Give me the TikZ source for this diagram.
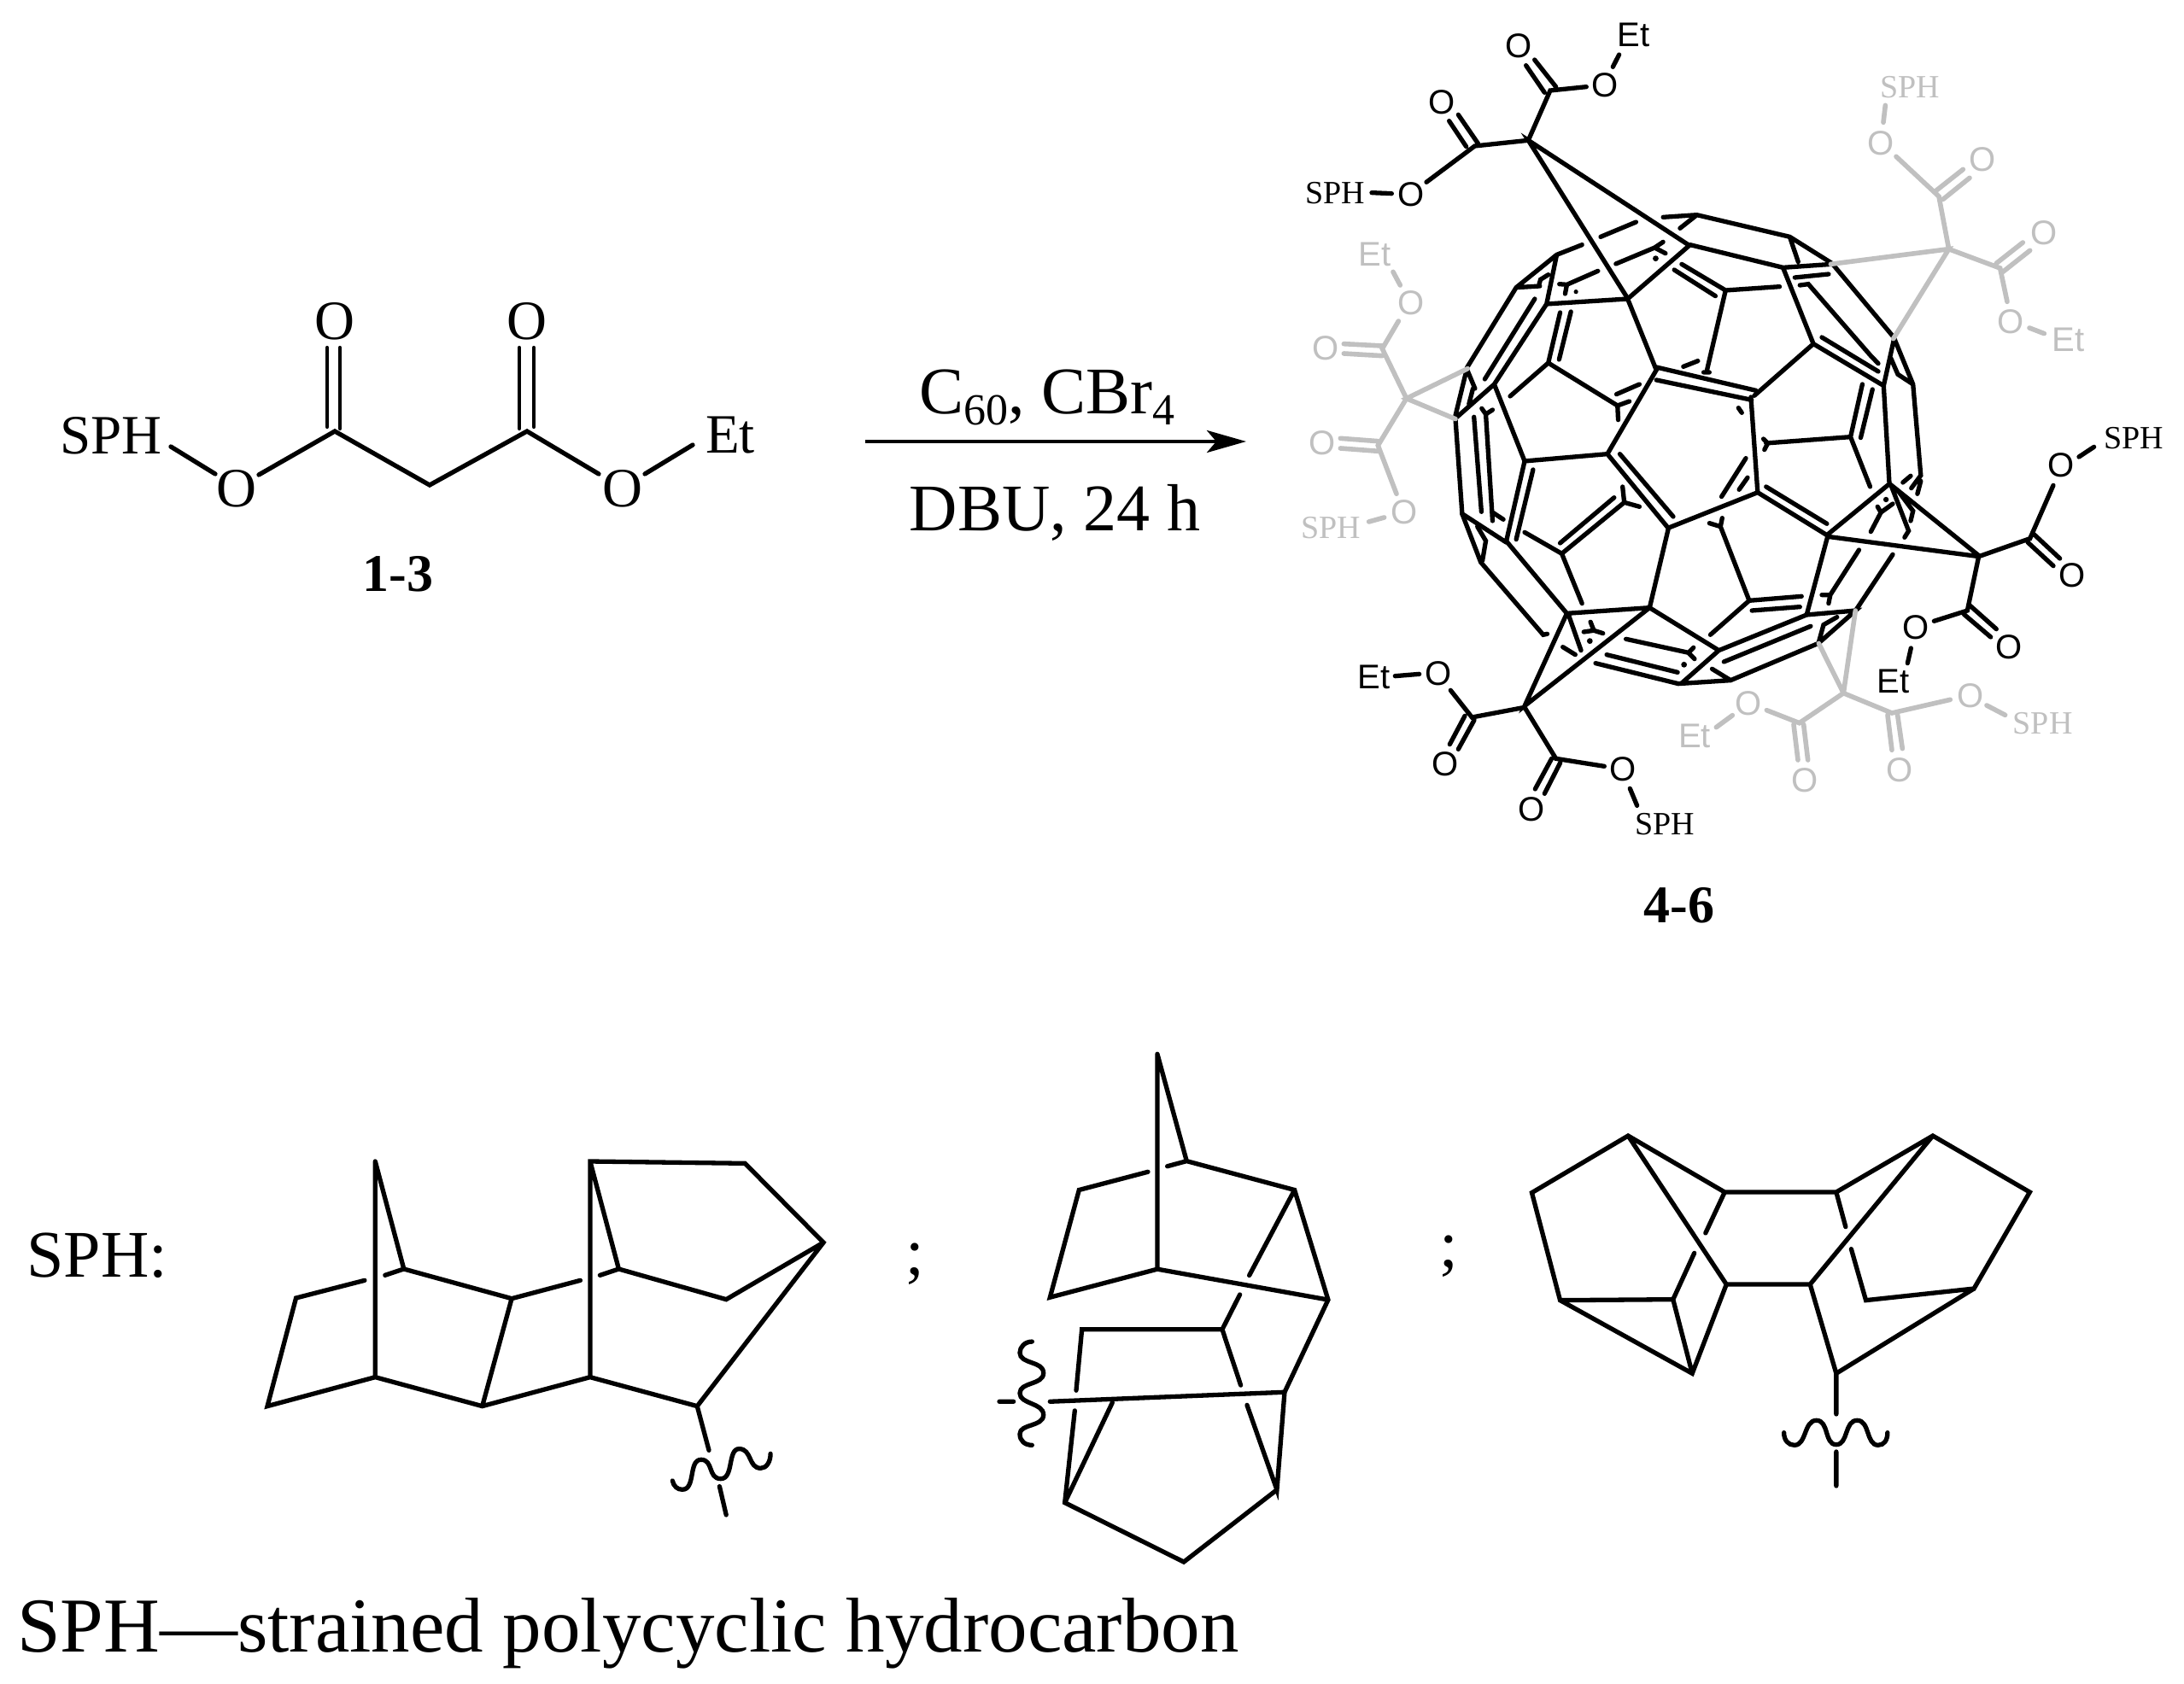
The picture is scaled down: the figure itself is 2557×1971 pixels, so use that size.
\documentclass[tikz,border=0pt]{standalone}
\usepackage{fontspec}
\setmainfont{Liberation Serif}
\newfontfamily\arialf{Liberation Sans}
\usetikzlibrary{arrows.meta}
\tikzset{
  bond/.style={line width=5.3pt,line cap=round,line join=miter,draw=black},
  gbond/.style={line width=5.6pt,line cap=round,line join=miter,draw=gbondc},
  big/.style={font=\fontsize{65}{70}\selectfont,inner sep=0pt},
  cond/.style={font=\fontsize{78}{84}\selectfont,inner sep=0pt,anchor=base},
  bigb/.style={font=\bfseries\fontsize{62}{66}\selectfont,inner sep=0pt},
  huge/.style={font=\fontsize{78}{84}\selectfont,inner sep=0pt},
  capt/.style={font=\fontsize{91}{96}\selectfont,inner sep=0pt,anchor=base west},
  sans/.style={font=\arialf\fontsize{40}{42}\selectfont,inner sep=0pt},
  ser/.style={font=\fontsize{38}{40}\selectfont,inner sep=0pt},
  zoomA/.style={x=0.3954pt,y=-0.3333pt},
  zoomU/.style={x=0.3333pt,y=-0.3333pt},
}
\definecolor{gbondc}{HTML}{C0C0C0}
\begin{document}
\begin{tikzpicture}[x=1pt,y=-1pt]
\useasboundingbox (0,0) rectangle (2557,1971);
\fill[white] (0,0) rectangle (2557,1971);

% --- malonate 1-3
\node[big] (sphA) at (130,510) {SPH};
\node[big] (oA) at (277,572) {O};
\node[big] (oB) at (729,572) {O};
\node[big] (oC) at (392,376) {O};
\node[big] (oD) at (617,376) {O};
\node[big] (etA) at (855,510) {Et};
\node[bigb] (lab13) at (466,672) {1-3};
\draw[bond] (200,523)--(252,555) (303,556)--(392,505)--(503,568)--(617,505)--(701,555) (755,555)--(811,521);
\draw[line width=4.2pt,line cap=round] (383,407)--(383,500) (398,407)--(398,502) (608,407)--(608,502) (625,407)--(625,500);

% --- arrow
\coordinate (arrS) at (1013,517);
\coordinate (arrE) at (1459,517);
\draw[line width=4.4pt,-{Stealth[length=46pt,width=26pt,inset=11pt]}] (arrS)--(arrE);
\node[cond] (condA) at (1226,484) {C\raisebox{-13pt}{\fontsize{52}{54}\selectfont 60}, CBr\raisebox{-13pt}{\fontsize{52}{54}\selectfont 4}};
\node[cond] (condB) at (1235,621) {DBU, 24 h};
\node[bigb] (lab46) at (1966,1060) {4-6};

% --- fullerene, upper part
\begin{scope}[shift={(1700,220)},zoomA]
\draw[bond]
 (625,103)--(725,95)--(1000,172)--(1125,265)--(1308,525)--(1365,690)--(1388,1010)--(1360,1055)
 (1388,1030)--(1378,1075)
 (725,95)--(675,142)
 (1000,172)--(1025,260)
 (705,200)--(980,280)--(1125,268)
 (1015,315)--(1115,303)
 (1030,342)--(1055,338)--(1240,590)--(1262,617)
 (1095,525)--(1262,645)
 (980,280)--(1070,548)--(1278,695)--(1308,535)
 (1070,548)--(895,730)
 (1278,695)--(1295,1040)
 (1300,600)--(1320,655)--(1365,690)
 (1215,690)--(1180,875)--(930,897)
 (922,882)--(935,897)--(925,920)
 (1245,708)--(1210,878)
 (1180,875)--(1238,1050)
 (1335,1035)--(1358,1012)
 (605,630)--(900,712)
 (605,675)--(887,745)
 (885,735)--(905,1070)
 (520,390)--(605,640)--(460,935)
 (705,200)--(520,390)--(280,408)
 (810,360)--(970,347)
 (810,360)--(755,640)
 (680,268)--(810,360)
 (658,288)--(780,380)
 (745,648)--(762,648)
 (685,628)--(728,608)
 (460,935)--(215,960)
 (460,935)--(640,1195)--(905,1070)--(1110,1220)
 (497,935)--(655,1155)
 (930,1050)--(1110,1180)
 (870,950)--(798,1085)
 (875,1018)--(850,1060)
 (848,773)--(858,790)
 (310,235)--(190,350)--(45,630)--(10,800)
 (310,235)--(385,200)
 (440,172)--(545,120)
 (310,235)--(280,408)--(125,690)--(10,810)
 (190,350)--(260,345)
 (258,338)--(262,322)--(285,305)
 (245,390)--(97,672)
 (318,338)--(340,340)--(432,292)
 (340,340)--(335,372)
 (485,267)--(600,210)--(632,230)
 (600,210)--(625,190)
 (320,438)--(285,615)
 (352,435)--(317,603)
 (172,732)--(285,615)--(490,765)--(492,815)
 (490,765)--(525,750)
 (487,725)--(555,690)
 (125,690)--(215,960)--(160,1245)
 (240,990)--(190,1235)
 (10,810)--(30,1145)--(160,1245)
 (65,805)--(87,1138)
 (88,775)--(100,795)--(120,1170)
 (100,795)--(120,780)
 (120,1140)--(152,1165)
 (45,640)--(68,705)
 (62,705)--(50,760)
 (1295,1040)--(1110,1220);
\fill (603,248) circle[radius=3.4pt] (367,365) circle[radius=2.6pt];
\end{scope}

% --- fullerene, lower part
\begin{scope}[shift={(1700,430)},zoomA]
\draw[bond]
 (75,560)--(100,610)--(90,680)
 (30,515)--(85,685)--(270,940)--(282,937)
 (160,610)--(340,865)
 (215,580)--(325,655)
 (325,655)--(510,475)--(555,490)
 (510,475)--(505,420)
 (320,618)--(480,458)
 (325,655)--(385,830)
 (340,865)--(585,845)
 (340,865)--(215,1190)--(585,845)
 (345,870)--(382,995)
 (328,983)--(365,1010)
 (390,930)--(420,925)--(447,935)
 (410,895)--(420,925)
 (585,845)--(640,570)
 (585,845)--(790,995)--(680,1110)
 (515,955)--(700,1003)--(715,985)
 (700,1003)--(718,1025)
 (458,1010)--(668,1072)
 (425,1040)--(670,1112)--(825,1100)--(1085,970)--(1195,855)--(1050,870)--(790,995)
 (770,1060)--(825,1100)
 (805,1035)--(1062,910)
 (1050,870)--(1112,595)
 (1085,970)--(1100,905)--(1140,878)
 (1195,855)--(1305,658)
 (1095,800)--(1120,800)--(1205,642)
 (1120,800)--(1115,830)
 (1035,805)--(880,820)--(765,940)
 (888,855)--(1030,842)
 (880,820)--(795,560)--(800,530)
 (795,560)--(762,548)
 (1112,595)--(1560,665)
 (1240,578)--(1270,510)--(1305,480)
 (1260,490)--(1270,510)
 (1296,410)--(1560,662)
 (1300,415)--(1352,575)--(1340,598)
 (1318,430)--(1365,505)--(1358,540);
\fill (408,962) circle[radius=3.4pt] (687,1045) circle[radius=3.4pt] (1285,465) circle[radius=3.2pt];
\end{scope}

% --- black addend, top
\begin{scope}[shift={(1500,0)},zoomU]
\coordinate (cTop) at (868,493);
\draw[bond] (1430,860)--(cTop)--(1218,1050);
\draw[bond] (cTop)--(945,318)--(1072,305) (cTop)--(680,513)--(510,640)
 (860,230)--(925,325) (890,210)--(965,305)
 (590,425)--(650,515) (622,403)--(692,505)
 (1165,235)--(1187,192) (318,677)--(388,680);
\node[sans] (o1) at (835,160) {O};
\node[sans] (o2) at (563,358) {O};
\node[sans] (o3) at (1138,298) {O};
\node[sans] (o4) at (455,682) {O};
\node[sans] (et1) at (1238,122) {Et};
\node[ser] (sph1) at (190,677) {SPH};
\end{scope}

% --- black addend, right
\begin{scope}[shift={(2150,470)},zoomU]
\draw[bond] (500,545)--(680,482)--(762,295)
 (500,545)--(460,735)--(343,772)
 (695,468)--(785,552) (672,495)--(762,578)
 (470,718)--(562,800) (448,748)--(542,828)
 (852,195)--(905,160) (262,867)--(250,920);
\node[sans] (o5) at (790,225) {O};
\node[sans] (o6) at (827,612) {O};
\node[sans] (o7) at (278,795) {O};
\node[sans] (o8) at (605,862) {O};
\node[ser] (sph2) at (1045,130) {SPH};
\node[sans] (et2) at (200,985) {Et};
\end{scope}

% --- black addend, bottom left
\begin{scope}[shift={(1560,740)},zoomU]
\draw[bond] (675,265)--(490,300)--(415,205)
 (675,265)--(785,445)--(955,472)
 (465,295)--(412,395) (498,310)--(442,412)
 (770,445)--(712,552) (800,460)--(745,568)
 (220,155)--(305,148) (1045,550)--(1070,610);
\node[sans] (o9) at (373,145) {O};
\node[sans] (o10) at (395,465) {O};
\node[sans] (o11) at (700,622) {O};
\node[sans] (o12) at (1020,482) {O};
\node[sans] (et3) at (145,160) {Et};
\node[ser] (sph3) at (1168,675) {SPH};
\end{scope}

% --- grey addend, top right
\begin{scope}[shift={(2100,60)},zoomU,every node/.append style={text=gbondc}]
\draw[gbond] (130,748)--(545,695)--(350,1010)
 (545,695)--(510,510)--(360,370)
 (500,490)--(595,415) (525,520)--(618,445)
 (545,695)--(725,762)--(750,880)
 (712,745)--(805,672) (735,775)--(830,700)
 (315,250)--(322,190) (828,972)--(880,992);
\node[sans] (o13) at (305,322) {O};
\node[sans] (o14) at (662,380) {O};
\node[sans] (o15) at (878,637) {O};
\node[sans] (o16) at (763,950) {O};
\node[ser] (sph4) at (408,125) {SPH};
\node[sans] (et4) at (965,1015) {Et};
\end{scope}

% --- grey addend, left
\begin{scope}[shift={(1500,260)},zoomU,every node/.append style={text=gbondc}]
\draw[gbond] (655,515)--(440,620)--(612,692)
 (440,620)--(355,445)--(412,348)
 (220,428)--(355,435) (220,462)--(355,470)
 (440,620)--(340,785)--(405,955)
 (208,760)--(340,770) (208,795)--(340,805)
 (393,175)--(418,222) (308,1053)--(362,1038);
\node[sans] (o17) at (157,442) {O};
\node[sans] (o18) at (145,775) {O};
\node[sans] (o19) at (455,285) {O};
\node[sans] (o20) at (432,1020) {O};
\node[sans] (et5) at (328,115) {Et};
\node[ser] (sph5) at (175,1075) {SPH};
\end{scope}

% --- grey addend, bottom
\begin{scope}[shift={(1920,750)},zoomU,every node/.append style={text=gbondc}]
\coordinate (cBot) at (715,185);
\draw[gbond] (cBot)--(628,10) (cBot)--(757,-105)
 (cBot)--(560,290)--(445,245)
 (cBot)--(885,255)--(1090,208)
 (540,295)--(555,420) (575,295)--(590,420)
 (870,262)--(885,385) (905,262)--(922,380)
 (268,305)--(325,263) (1218,228)--(1283,262);
\node[sans] (o21) at (380,220) {O};
\node[sans] (o22) at (580,490) {O};
\node[sans] (o23) at (913,455) {O};
\node[sans] (o24) at (1160,193) {O};
\node[sans] (et6) at (192,335) {Et};
\node[ser] (sph6) at (1415,292) {SPH};
\end{scope}

% --- bottom row
\node[huge] (sphLab) at (114,1470) {SPH:};
\node[huge] (semiA) at (1071,1480) {;};
\node[huge] (semiB) at (1696,1471) {;};
\node[capt] (caption) at (20,1934) {SPH—strained polycyclic hydrocarbon};

% --- SPH structure 1
\begin{scope}[shift={(280,1330)},x=0.4591pt,y=-0.3333pt]
\draw[bond]
 (347,90)--(347,848)
 (347,90)--(420,468)--(372,490)
 (420,468)--(695,572)--(870,508)
 (695,572)--(620,950)
 (320,508)--(145,570)--(72,950)--(347,848)--(620,950)--(895,848)--(1168,950)--(1490,375)--(1290,97)--(895,90)--(895,848)
 (895,90)--(968,468)--(920,490)
 (968,468)--(1242,575)--(1490,375)
 (1168,950)--(1198,1105)
 (1225,1232)--(1242,1332);
\draw[bond] (1105,1212) .. controls (1108,1232) and (1118,1243) .. (1130,1243) .. controls (1165,1243) and (1145,1138) .. (1178,1138) .. controls (1210,1138) and (1195,1205) .. (1228,1205) .. controls (1262,1205) and (1245,1100) .. (1275,1100) .. controls (1308,1100) and (1298,1168) .. (1330,1168) .. controls (1345,1168) and (1355,1145) .. (1355,1117);
\end{scope}

% --- SPH structure 2
\begin{scope}[shift={(1140,1220)},x=0.3333pt,y=-0.4082pt]
\draw[bond]
 (645,35)--(645,652)
 (645,35)--(748,342)--(680,357)
 (748,342)--(1127,425)--(1245,740)--(1092,1005)--(268,1032)
 (1127,425)--(968,670)
 (645,652)--(1245,740)
 (645,652)--(268,733)--(370,425)--(612,373)
 (935,725)--(873,825)--(380,825)--(360,1000)
 (873,825)--(938,985)
 (960,1042)--(1065,1285)--(1092,1005)
 (1065,1285)--(738,1492)--(320,1322)--(355,1058)
 (320,1322)--(487,1035)
 (90,1032)--(140,1032);
\draw[bond] (205,860) .. controls (180,860) and (162,875) .. (162,892) .. controls (162,925) and (245,915) .. (245,950) .. controls (245,985) and (162,975) .. (162,1008) .. controls (162,1040) and (245,1035) .. (245,1070) .. controls (245,1105) and (162,1095) .. (162,1125) .. controls (162,1145) and (180,1157) .. (205,1157);
\end{scope}

% --- SPH structure 3
\begin{scope}[shift={(1760,1310)},x=0.4082pt,y=-0.3333pt]
\draw[bond]
 (635,258)--(358,60)--(82,260)--(163,638)--(542,895)--(640,582)--(358,60)
 (635,258)--(955,258)--(1232,60)--(1510,258)--(1350,597)--(1040,638)--(998,458)
 (635,258)--(580,402)
 (548,472)--(487,635)--(163,638)
 (487,635)--(542,895)
 (640,582)--(880,582)--(1232,60)
 (955,258)--(982,380)
 (880,582)--(955,895)--(1350,597)
 (955,895)--(955,1038)
 (955,1170)--(955,1290);
\draw[bond] (805,1103) .. controls (805,1130) and (818,1147) .. (835,1147) .. controls (870,1147) and (862,1060) .. (898,1060) .. controls (935,1060) and (920,1145) .. (955,1145) .. controls (990,1145) and (978,1060) .. (1015,1060) .. controls (1052,1060) and (1040,1147) .. (1075,1147) .. controls (1092,1147) and (1102,1130) .. (1102,1103);
\end{scope}
\end{tikzpicture}
\end{document}
